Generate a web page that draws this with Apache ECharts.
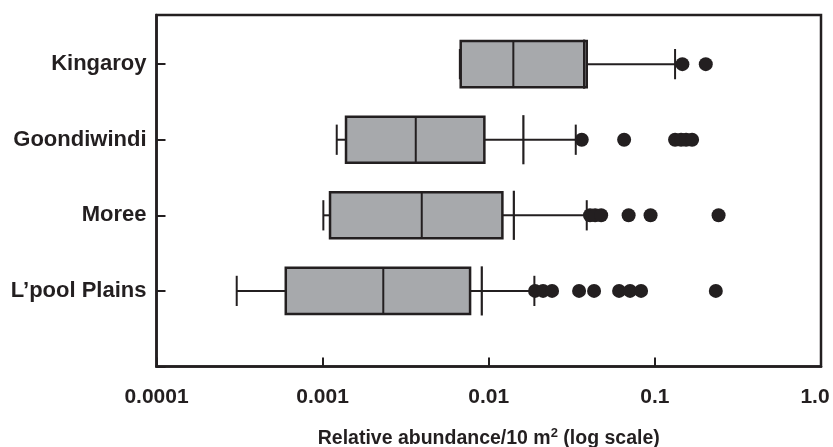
<!DOCTYPE html>
<html>
<head>
<meta charset="utf-8">
<script src="https://cdn.jsdelivr.net/npm/echarts@6/dist/echarts.min.js"></script>
<style>html,body{margin:0;padding:0;background:#fff}#c{width:833px;height:447px}</style>
</head>
<body>
<div id="c"></div>
<script>
// Sites, bottom to top (y positions 1..4)
const categories = ["L\u2019pool Plains", "Moree", "Goondiwindi", "Kingaroy"];
// Box-plot statistics (relative abundance per 10 m^2)
const lowWhisker  = [0.000304, 0.00101, 0.001216, 0.0067];
const q1          = [0.000600, 0.001108, 0.001383, 0.00678];
const median      = [0.002318, 0.003951, 0.003636, 0.01406];
const q3          = [0.00772, 0.01208, 0.00941, 0.0389];
const tallMarker  = [0.00908, 0.01416, 0.01616, 0.0375];
const highWhisker = [0.01882, 0.0389, 0.0334, 0.1323];
// Outliers per site
const outliersLpool = [0.0190, 0.02123, 0.02405, 0.03498, 0.04305, 0.0609, 0.0709, 0.0826, 0.2327];
const outliersMoree = [0.0407, 0.0437, 0.0475, 0.0695, 0.0942, 0.2418];
const outliersGoondiwindi = [0.0363, 0.0653, 0.1323, 0.1438, 0.1541, 0.1675];
const outliersKingaroy = [0.1464, 0.2025];
// X tick labels
const xTickLabels = ['0.0001', '0.001', '0.01', '0.1', '1.0'];

const outlierSets = [outliersLpool, outliersMoree, outliersGoondiwindi, outliersKingaroy];
const boxData = categories.map((c, i) => [i + 1, lowWhisker[i], q1[i], median[i], q3[i], tallMarker[i], highWhisker[i]]);
const outlierData = [];
outlierSets.forEach((arr, i) => arr.forEach(v => outlierData.push([v, i + 1])));

const INK = '#231f20';
const FONT = 'Liberation Sans';
const chart = echarts.init(document.getElementById('c'), null, {renderer: 'canvas'});

function renderBox(params, api) {
  const y = api.value(0);
  const lo = api.value(1), a = api.value(2), m = api.value(3), b = api.value(4), t = api.value(5), hi = api.value(6);
  const c = (x, dy) => api.coord([x, y + (dy || 0)]);
  const py = c(a)[1];
  const unit = Math.abs(c(a, 1)[1] - py);
  const boxH = unit * 0.305, capH = unit * 0.2, tallH = unit * 0.325;
  const xLo = c(lo)[0], xA = c(a)[0], xM = c(m)[0], xB = c(b)[0], xT = c(t)[0], xHi = c(hi)[0];
  const lineStyle = {stroke: INK, lineWidth: 2};
  const children = [
    {type: 'line', shape: {x1: xLo, y1: py, x2: xA, y2: py}, style: lineStyle},
    {type: 'line', shape: {x1: xB, y1: py, x2: xHi, y2: py}, style: lineStyle},
    {type: 'line', shape: {x1: xLo, y1: py - capH, x2: xLo, y2: py + capH}, style: lineStyle},
    {type: 'line', shape: {x1: xHi, y1: py - capH, x2: xHi, y2: py + capH}, style: lineStyle},
    {type: 'rect', shape: {x: xA, y: py - boxH, width: xB - xA, height: 2 * boxH},
      style: {fill: '#a7a9ac', stroke: INK, lineWidth: 2.5}},
    {type: 'line', shape: {x1: xM, y1: py - boxH, x2: xM, y2: py + boxH}, style: {stroke: INK, lineWidth: 2}},
    {type: 'line', shape: {x1: xT, y1: py - tallH, x2: xT, y2: py + tallH}, style: {stroke: INK, lineWidth: 2.2}}
  ];
  return {type: 'group', children: children};
}

chart.setOption({
  animation: false,
  backgroundColor: '#ffffff',
  grid: {left: 156.5, right: 12, top: 15, bottom: 80.5, containLabel: false, outerBoundsMode: 'none',
    show: true, borderColor: INK, borderWidth: 2.5, backgroundColor: 'transparent'},
  xAxis: {
    type: 'log', logBase: 10, min: 0.0001, max: 1,
    name: '{a|Relative abundance/10 m}{s|2}{a| (log scale)}',
    nameLocation: 'middle', nameGap: 60,
    nameTextStyle: {
      rich: {
        a: {fontFamily: FONT, fontWeight: 'bold', fontSize: 19.5, color: INK, lineHeight: 24},
        s: {fontFamily: FONT, fontWeight: 'bold', fontSize: 13, color: INK, lineHeight: 13, verticalAlign: 'top'}
      }
    },
    axisLine: {show: true, lineStyle: {color: INK, width: 2.5}},
    axisTick: {show: true, inside: true, length: 9, lineStyle: {color: INK, width: 2}},
    minorTick: {show: false},
    splitLine: {show: false},
    axisLabel: {
      margin: 20, fontFamily: FONT, fontWeight: 'bold', fontSize: 21, color: INK,
      formatter: v => {
        const i = Math.round(Math.log10(v)) + 4;
        const s = xTickLabels[i] || '';
        return i === xTickLabels.length - 1 ? '{r|' + s + '}' : s;
      },
      rich: {
        r: {fontFamily: FONT, fontWeight: 'bold', fontSize: 21, color: INK, padding: [0, 12, 4, 0]}
      }
    }
  },
  yAxis: {
    type: 'value', min: 0, max: 4.65, interval: 1,
    axisLine: {show: true, lineStyle: {color: INK, width: 2.5}},
    axisTick: {show: true, inside: true, length: 9, lineStyle: {color: INK, width: 2}},
    splitLine: {show: false},
    axisLabel: {
      margin: 10, fontFamily: FONT, fontWeight: 'bold', fontSize: 22, color: INK,
      formatter: v => (Number.isInteger(v) && categories[v - 1]) ? categories[v - 1] : ''
    }
  },
  series: [
    {
      type: 'custom', renderItem: renderBox, data: boxData,
      encode: {x: [1, 2, 3, 4, 5, 6], y: 0}, z: 2, clip: false
    },
    {
      type: 'scatter', data: outlierData, symbol: 'circle', symbolSize: 14,
      itemStyle: {color: INK, opacity: 1}, z: 3
    }
  ]
});
</script>
</body>
</html>
